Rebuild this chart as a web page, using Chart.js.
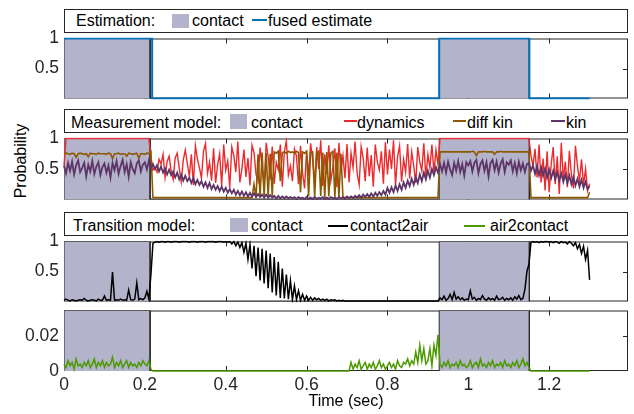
<!DOCTYPE html>
<html>
<head>
<meta charset="utf-8">
<script src="https://cdn.jsdelivr.net/npm/chart.js@4.4.0/dist/chart.umd.min.js"></script>
<style>
    body { margin: 0; width: 634px; height: 414px; background: #fff; position: relative; overflow: hidden;
           font-family: "Liberation Sans", Arial, sans-serif; color: #000; }
    canvas { position: absolute; left: 0; }
    .legenda { position: absolute; left: 64px; width: 564px; height: 24px; box-sizing: border-box;
               border: 1px solid #262626; background: #fff; z-index: 2; font-size: 16px; }
    .legenda span { position: absolute; line-height: 22px; white-space: nowrap; }
    .caixa { position: absolute; background: #b3b3cc; }
    .traco { position: absolute; height: 2px; }
    #rotuloY { position: absolute; left: 20.5px; top: 160.5px; font-size: 16px; line-height: 16px; white-space: nowrap;
               transform: translate(-50%, -50%) rotate(-90deg); }
</style>
</head>
<body>

<div class="legenda" style="top:9px">
    <span style="left:11px;top:0">Estimation:</span>
    <div class="caixa" style="left:107px;top:4px;width:17px;height:14px"></div>
    <span style="left:127px;top:0">contact</span>
    <div class="traco" style="left:187px;top:9px;width:15px;background:#0072bd"></div>
    <span style="left:203px;top:0">fused estimate</span>
</div>

<div class="legenda" style="top:109px">
    <span style="left:6px;top:2px">Measurement model:</span>
    <div class="caixa" style="left:165px;top:4px;width:17px;height:15px"></div>
    <span style="left:186px;top:2px">contact</span>
    <div class="traco" style="left:279px;top:10px;width:13px;background:#ec2a2e"></div>
    <span style="left:292px;top:2px">dynamics</span>
    <div class="traco" style="left:388px;top:10px;width:13px;background:#8c5900"></div>
    <span style="left:402px;top:2px">diff kin</span>
    <div class="traco" style="left:486px;top:10px;width:14px;background:#5e3566"></div>
    <span style="left:501px;top:2px">kin</span>
</div>

<div class="legenda" style="top:212px">
    <span style="left:8px;top:2px">Transition model:</span>
    <div class="caixa" style="left:165px;top:5px;width:18px;height:14px"></div>
    <span style="left:186px;top:2px">contact</span>
    <div class="traco" style="left:263px;top:12px;width:20px;background:#000"></div>
    <span style="left:285px;top:2px">contact2air</span>
    <div class="traco" style="left:399px;top:12px;width:21px;background:#4c9a00"></div>
    <span style="left:425px;top:2px">air2contact</span>
</div>

<div id="rotuloY">Probability</div>

<canvas id="painel1" width="634" height="91" style="top:23px"></canvas>
<canvas id="painel2" width="634" height="92" style="top:123px"></canvas>
<canvas id="painel3" width="634" height="91" style="top:226px"></canvas>
<canvas id="painel4" width="634" height="119" style="top:295px"></canvas>

<script>
// amostras a cada 0.005 s, de 0 a 1.30 s (261 pontos por serie)
var passo = 0.005;

var xTicks = [0, 0.2, 0.4, 0.6, 0.8, 1, 1.2];
var yTicksProb = [0.5, 1];
var yTicksAir = [0, 0.02];

// intervalos de contato (s)
var contatoInicio = [0, 0.928];
var contatoFim = [0.213, 1.151];

// estimativa fundida (degraus)
var fusedTempos = [0, 0.218, 0.218, 0.928, 0.928, 1.151, 1.151, 1.30];
var fusedValores = [1, 1, 0, 0, 1, 1, 0, 0];

var dynamics = [
    0.55,1,1,1,1,1,1,1,1,1,1,1,1,1,1,1,1,1,1,1,
    1,1,1,1,1,1,1,1,1,1,1,1,1,1,1,1,1,1,1,1,
    1,1,1,0.7,0.48,0.52,0.45,0.66,0.58,0.74,0.36,0.62,0.71,0.47,0.33,0.68,0.76,0.52,0.29,0.65,
    0.81,0.59,0.38,0.74,0.24,0.88,0.66,0.52,0.35,0.79,0.92,0.43,0.61,0.31,0.84,0.27,0.57,0.75,0.22,0.9,
    0.48,0.63,0.19,0.86,0.72,0.45,0.95,0.28,0.5,0.82,0.37,0.68,0.23,0.89,0.77,0.41,0.3,0.85,0.54,0.2,
    0.93,0.7,0.33,0.87,0.26,0.61,0.49,0.9,0.21,0.78,0.96,0.4,0.55,0.3,0.83,0.71,0.25,0.88,0.44,0.18,
    0.8,0.39,0.92,0.66,0.27,0.86,0.5,0.97,0.22,0.74,0.42,0.89,0.31,0.53,0.84,0.2,0.93,0.46,0.72,0.35,
    0.91,0.28,0.76,0.52,0.95,0.43,0.24,0.87,0.68,0.3,0.85,0.38,0.73,0.21,0.9,0.62,0.48,0.79,0.26,0.94,
    0.41,0.82,0.5,0.97,0.23,0.7,0.88,0.29,0.66,0.45,0.91,0.34,0.78,0.55,0.27,0.86,0.62,0.47,0.92,0.36,
    0.74,0.52,0.9,0.44,0.81,0.58,1,1,1,1,1,1,1,1,1,1,1,1,1,1,
    1,1,1,1,1,1,1,1,1,1,1,1,1,1,1,1,1,1,1,1,
    1,1,1,1,1,1,1,1,1,1,1,0.72,0.55,0.83,0.36,0.9,0.28,0.67,0.15,0.79,
    0.12,0.58,0.86,0.25,0.71,0.09,0.93,0.33,0.62,0.2,0.8,0.41,0.18,0.88,0.55,0.3,0.66,0.24,0.5,0.14,
    0.26
];

var diffKin = [
    0.75,0.76,0.75,0.74,0.76,0.75,0.69,0.75,0.76,0.75,0.74,0.75,0.7,0.76,0.75,0.75,0.74,0.76,0.75,0.75,
    0.75,0.74,0.76,0.75,0.67,0.75,0.75,0.76,0.74,0.75,0.75,0.71,0.76,0.75,0.74,0.75,0.76,0.68,0.75,0.75,
    0.74,0.76,0.75,0.79,0.03,0.03,0.03,0.03,0.03,0.03,0.03,0.03,0.03,0.03,0.03,0.03,0.03,0.03,0.03,0.03,
    0.03,0.03,0.03,0.03,0.03,0.03,0.03,0.03,0.03,0.03,0.03,0.03,0.03,0.03,0.03,0.03,0.03,0.03,0.03,0.03,
    0.03,0.03,0.03,0.03,0.03,0.03,0.03,0.03,0.03,0.03,0.03,0.03,0.03,0.03,0.25,0.03,0.74,0.04,0.77,0.05,
    0.76,0.04,0.75,0.06,0.78,0.76,0.79,0.3,0.77,0.78,0.76,0.79,0.77,0.78,0.76,0.79,0.77,0.12,0.78,0.76,
    0.79,0.05,0.77,0.78,0.04,0.76,0.79,0.06,0.77,0.03,0.78,0.05,0.76,0.79,0.04,0.77,0.03,0.75,0.03,0.03,
    0.03,0.03,0.03,0.03,0.03,0.03,0.03,0.03,0.03,0.03,0.03,0.03,0.03,0.03,0.03,0.03,0.03,0.03,0.03,0.03,
    0.03,0.03,0.03,0.03,0.03,0.03,0.03,0.03,0.03,0.03,0.03,0.03,0.03,0.03,0.03,0.03,0.03,0.03,0.03,0.03,
    0.03,0.03,0.03,0.03,0.03,0.03,0.78,0.78,0.78,0.78,0.78,0.78,0.78,0.78,0.78,0.78,0.78,0.78,0.78,0.78,
    0.78,0.78,0.79,0.78,0.72,0.78,0.78,0.78,0.79,0.78,0.78,0.78,0.78,0.74,0.78,0.78,0.79,0.78,0.78,0.78,
    0.78,0.78,0.78,0.78,0.78,0.78,0.78,0.78,0.78,0.78,0.78,0.03,0.03,0.03,0.03,0.03,0.03,0.03,0.03,0.03,
    0.03,0.03,0.03,0.03,0.03,0.03,0.03,0.03,0.03,0.03,0.03,0.03,0.03,0.03,0.03,0.03,0.03,0.03,0.03,0.03,
    0.12
];

var kin = [
    0.55,0.43,0.6,0.47,0.62,0.41,0.56,0.64,0.45,0.52,0.6,0.38,0.57,0.46,0.63,0.42,0.54,0.61,0.4,0.53,
    0.59,0.44,0.56,0.36,0.6,0.48,0.63,0.42,0.55,0.65,0.45,0.58,0.37,0.61,0.5,0.43,0.59,0.64,0.46,0.57,
    0.61,0.49,0.64,0.52,0.58,0.5,0.56,0.46,0.54,0.44,0.51,0.41,0.49,0.4,0.46,0.36,0.44,0.33,0.41,0.31,
    0.39,0.3,0.36,0.27,0.35,0.25,0.32,0.24,0.3,0.21,0.28,0.19,0.27,0.17,0.24,0.16,0.22,0.14,0.21,0.13,
    0.19,0.11,0.17,0.1,0.16,0.08,0.14,0.07,0.13,0.06,0.12,0.05,0.11,0.05,0.1,0.04,0.09,0.04,0.08,0.03,
    0.08,0.03,0.07,0.03,0.06,0.02,0.06,0.02,0.05,0.02,0.05,0.02,0.04,0.02,0.04,0.01,0.04,0.02,0.03,0.01,
    0.04,0.01,0.03,0.01,0.04,0.01,0.03,0.02,0.04,0.01,0.03,0.01,0.04,0.02,0.03,0.01,0.04,0.02,0.04,0.01,
    0.05,0.02,0.05,0.02,0.06,0.03,0.07,0.03,0.08,0.04,0.09,0.04,0.1,0.05,0.11,0.06,0.12,0.07,0.14,0.08,
    0.19,0.11,0.2,0.12,0.23,0.14,0.25,0.16,0.28,0.19,0.31,0.22,0.34,0.24,0.37,0.27,0.41,0.3,0.44,0.33,
    0.47,0.36,0.5,0.4,0.53,0.44,0.58,0.46,0.6,0.44,0.62,0.49,0.4,0.6,0.47,0.63,0.45,0.58,0.39,0.61,
    0.56,0.63,0.46,0.6,0.65,0.43,0.58,0.64,0.47,0.61,0.38,0.6,0.65,0.48,0.62,0.44,0.59,0.66,0.45,0.61,
    0.57,0.64,0.46,0.6,0.43,0.62,0.48,0.59,0.45,0.58,0.6,0.47,0.56,0.42,0.55,0.4,0.53,0.39,0.51,0.36,
    0.49,0.35,0.47,0.33,0.45,0.31,0.43,0.29,0.41,0.27,0.39,0.25,0.37,0.23,0.34,0.21,0.32,0.19,0.29,0.17,
    0.22
];

var contact2air = [
    0.02,0.04,0.02,0.01,0.03,0.02,0.01,0.02,0.03,0.02,0.05,0.02,0.01,0.02,0.03,0.02,0.01,0.04,0.02,0.02,
    0.09,0.02,0.03,0.02,0.49,0.02,0.03,0.02,0.04,0.02,0.03,0.02,0.19,0.03,0.02,0.04,0.31,0.03,0.05,0.03,
    0.06,0.17,0.04,0.45,0.97,0.99,1,0.99,1,1,0.99,1,1,0.99,1,1,1,0.99,1,1,
    1,1,0.99,1,1,1,0.99,1,1,1,0.99,1,1,1,1,0.99,1,1,1,0.99,
    1,0.99,1,0.96,1,0.93,0.99,0.9,0.98,0.82,0.97,0.7,0.95,0.55,0.93,0.42,0.9,0.35,0.88,0.3,
    0.85,0.22,0.8,0.15,0.74,0.1,0.66,0.06,0.55,0.05,0.45,0.04,0.35,0.03,0.26,0.03,0.18,0.02,0.12,0.02,
    0.09,0.02,0.07,0.02,0.06,0.03,0.05,0.02,0.04,0.02,0.04,0.01,0.03,0.02,0.03,0.01,0.02,0.01,0.02,0.01,
    0.01,0.01,0.01,0.01,0.01,0.01,0.01,0.01,0.01,0.01,0.01,0.01,0.01,0.01,0.01,0.01,0.01,0.01,0.01,0.01,
    0.01,0.01,0.01,0.01,0.01,0.01,0.01,0.01,0.01,0.01,0.01,0.01,0.01,0.01,0.01,0.01,0.01,0.01,0.01,0.01,
    0.01,0.01,0.01,0.01,0.01,0.01,0.06,0.03,0.09,0.02,0.05,0.12,0.03,0.15,0.04,0.08,0.03,0.06,0.02,0.04,
    0.03,0.18,0.04,0.07,0.02,0.05,0.03,0.1,0.04,0.02,0.06,0.03,0.05,0.02,0.09,0.03,0.04,0.07,0.02,0.05,
    0.03,0.06,0.02,0.08,0.04,0.1,0.03,0.05,0.2,0.5,0.62,0.99,1,0.99,1,0.98,1,0.99,1,1,
    0.99,1,0.98,1,0.99,0.97,1,0.98,0.99,0.96,1,0.97,0.93,0.98,0.88,0.95,0.8,0.92,0.7,0.85,
    0.36
];

var air2contact = [
    0.004,0.002,0.006,0.003,0.005,0.001,0.007,0.003,0.004,0.002,0.005,0.003,0.006,0.002,0.004,0.007,0.002,0.005,0.003,0.006,
    0.002,0.005,0.003,0.004,0.008,0.002,0.005,0.003,0.006,0.002,0.004,0.006,0.002,0.005,0.003,0.004,0.002,0.005,0.003,0.006,
    0.004,0.003,0.006,0.001,0,0,0,0,0,0,0,0,0,0,0,0,0,0,0,0,
    0,0,0,0,0,0,0,0,0,0,0,0,0,0,0,0,0,0,0,0,
    0,0,0,0,0,0,0,0,0,0,0,0,0,0,0,0,0,0,0,0,
    0,0,0,0,0,0,0,0,0,0,0,0,0,0,0,0,0,0,0,0,
    0,0,0,0,0,0,0,0,0,0,0,0,0,0,0,0,0,0,0,0,
    0,0,0.005,0.001,0.004,0.002,0.006,0.001,0.003,0.005,0.001,0.004,0.002,0.005,0.001,0.003,0.006,0.002,0.004,0.001,
    0.003,0.005,0.002,0.004,0.001,0.006,0.003,0.002,0.005,0.004,0.007,0.003,0.006,0.004,0.011,0.005,0.015,0.006,0.013,0.004,
    0.006,0.013,0.003,0.015,0.009,0.021,0.004,0.002,0.005,0.003,0.006,0.002,0.004,0.003,0.005,0.002,0.006,0.003,0.004,0.002,
    0.003,0.006,0.002,0.004,0.005,0.002,0.007,0.003,0.004,0.002,0.005,0.003,0.006,0.002,0.004,0.003,0.005,0.002,0.006,0.003,
    0.004,0.002,0.005,0.003,0.006,0.002,0.004,0.007,0.003,0.005,0.002,0,0,0,0,0,0,0,0,0,
    0,0,0,0,0,0,0,0,0,0,0,0,0,0,0,0,0,0,0,0,
    0
];

function montarSerie(valores) {
    var pontos = [];
    for (var i = 0; i < valores.length; i++) {
        pontos.push({ x: Math.round(i * passo * 1000) / 1000, y: valores[i] });
    }
    return pontos;
}

function montarDegraus(tempos, valores) {
    var pontos = [];
    for (var i = 0; i < tempos.length; i++) {
        pontos.push({ x: tempos[i], y: valores[i] });
    }
    return pontos;
}

// faixa cinza de contato, ocupa a altura toda do painel
function montarContato(topo) {
    var pontos = [];
    for (var k = 0; k < contatoInicio.length; k++) {
        pontos.push({ x: contatoInicio[k], y: 0 });
        pontos.push({ x: contatoInicio[k], y: topo });
        pontos.push({ x: contatoFim[k], y: topo });
        pontos.push({ x: contatoFim[k], y: 0 });
    }
    return pontos;
}

function datasetContato(topo) {
    return {
        label: 'contact',
        data: montarContato(topo),
        backgroundColor: '#b3b3cc',
        borderColor: '#2a2a2a',
        borderWidth: 1,
        fill: 'origin',
        order: 10
    };
}

function datasetLinha(label, dados, cor, largura, ordem) {
    return {
        label: label,
        data: dados,
        borderColor: cor,
        borderWidth: largura,
        fill: false,
        clip: 1,
        order: ordem
    };
}

// moldura e ticks para dentro (estilo matlab)
const molduraPlugin = {
    id: 'moldura',
    beforeDatasetsDraw(chart, args, opts) {
        const ctx = chart.ctx;
        const area = chart.chartArea;
        const sx = chart.scales.x;
        const sy = chart.scales.y;
        ctx.save();
        ctx.strokeStyle = '#262626';
        ctx.lineWidth = 1;
        ctx.beginPath();
        xTicks.forEach(function (v) {
            if (v <= sx.min || v >= sx.max) return;
            const px = Math.round(sx.getPixelForValue(v)) + 0.5;
            ctx.moveTo(px, area.bottom); ctx.lineTo(px, area.bottom - 5);
            ctx.moveTo(px, area.top); ctx.lineTo(px, area.top + 5);
        });
        opts.yTicks.forEach(function (v) {
            if (v <= sy.min || v >= sy.max) return;
            const py = Math.round(sy.getPixelForValue(v)) + 0.5;
            ctx.moveTo(area.left, py); ctx.lineTo(area.left + 5, py);
            ctx.moveTo(area.right, py); ctx.lineTo(area.right - 5, py);
        });
        ctx.stroke();
        ctx.strokeRect(area.left + 0.5, area.top + 0.5, area.right - area.left - 1, area.bottom - area.top - 1);
        ctx.restore();
    }
};

Chart.defaults.font.family = "'Liberation Sans', Arial, sans-serif";

function opcoesPainel(yMax, yTicks, mostrarX) {
    return {
        responsive: false,
        animation: false,
        events: [],
        layout: {
            padding: { top: 14, bottom: mostrarX ? 0 : 14, left: 0, right: 6 }
        },
        elements: {
            point: { radius: 0 },
            line: { tension: 0 }
        },
        plugins: {
            legend: { display: false },
            tooltip: { enabled: false },
            moldura: { yTicks: yTicks }
        },
        scales: {
            x: {
                type: 'linear',
                display: mostrarX,
                min: 0,
                max: 1.395,
                grid: { display: false, drawTicks: false },
                border: { display: false },
                afterBuildTicks: function (scale) {
                    scale.ticks = xTicks.map(function (v) { return { value: v }; });
                },
                afterFit: function (scale) {
                    if (mostrarX) scale.height = 43;
                },
                ticks: {
                    padding: 4,
                    color: '#262626',
                    font: { size: 17.5 },
                    maxRotation: 0,
                    callback: function (v) { return String(v); }
                },
                title: {
                    display: mostrarX,
                    text: 'Time (sec)',
                    color: '#000',
                    font: { size: 16 },
                    padding: { top: 0, bottom: 3 }
                }
            },
            y: {
                type: 'linear',
                min: 0,
                max: yMax,
                grid: { display: false, drawTicks: false },
                border: { display: false },
                afterBuildTicks: function (scale) {
                    scale.ticks = yTicks.map(function (v) { return { value: v }; });
                },
                afterFit: function (scale) {
                    scale.width = 64;
                },
                ticks: {
                    padding: 5,
                    color: '#262626',
                    font: { size: 17.5 },
                    callback: function (v) { return String(v); }
                }
            }
        }
    };
}

function plotarPainel1() {
    const config1 = {
        type: 'line',
        data: {
            datasets: [
                datasetLinha('fused estimate', montarDegraus(fusedTempos, fusedValores), '#0072bd', 2, 1),
                datasetContato(1)
            ]
        },
        options: opcoesPainel(1, yTicksProb, false),
        plugins: [molduraPlugin]
    };
    const grafico1 = new Chart(document.getElementById('painel1'), config1);
}

function plotarPainel2() {
    const config2 = {
        type: 'line',
        data: {
            datasets: [
                datasetLinha('kin', montarSerie(kin), '#5e3566', 1.8, 1),
                datasetLinha('diff kin', montarSerie(diffKin), '#8c5900', 1.6, 2),
                datasetLinha('dynamics', montarSerie(dynamics), '#ec2a2e', 1.4, 3),
                datasetContato(1)
            ]
        },
        options: opcoesPainel(1, yTicksProb, false),
        plugins: [molduraPlugin]
    };
    const grafico2 = new Chart(document.getElementById('painel2'), config2);
}

function plotarPainel3() {
    const config3 = {
        type: 'line',
        data: {
            datasets: [
                datasetLinha('contact2air', montarSerie(contact2air), '#000000', 1.5, 1),
                datasetContato(1)
            ]
        },
        options: opcoesPainel(1, yTicksProb, false),
        plugins: [molduraPlugin]
    };
    const grafico3 = new Chart(document.getElementById('painel3'), config3);
}

function plotarPainel4() {
    const config4 = {
        type: 'line',
        data: {
            datasets: [
                datasetLinha('air2contact', montarSerie(air2contact), '#4c9a00', 1.5, 1),
                datasetContato(0.035)
            ]
        },
        options: opcoesPainel(0.035, yTicksAir, true),
        plugins: [molduraPlugin]
    };
    const grafico4 = new Chart(document.getElementById('painel4'), config4);
}

plotarPainel1();
plotarPainel2();
plotarPainel3();
plotarPainel4();
</script>
</body>
</html>
